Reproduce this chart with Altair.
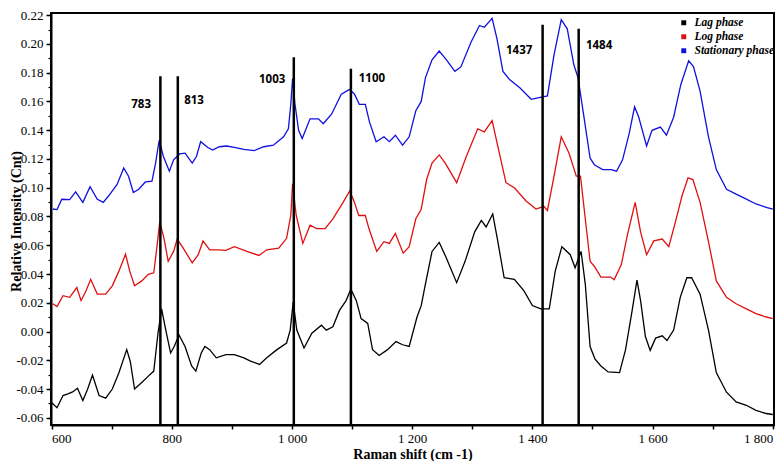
import altair as alt
import pandas as pd

# ---------------- data ----------------
phases = ["Lag phase", "Log phase", "Stationary phase"]
phase_colors = ["#000000", "#e01010", "#1010e0"]

lag_x = [599, 609, 619, 627, 635, 643, 652, 660, 668, 679, 690, 701, 712, 725, 731, 738, 750, 761, 770, 777,
         783, 790, 798, 804, 812, 822, 833, 840, 849, 855, 863, 874, 890, 904, 920, 931, 946, 958, 975, 991,
         997, 1002, 1008, 1020, 1033, 1049, 1057, 1068, 1079, 1090, 1098, 1107, 1115, 1126, 1134, 1145, 1159,
         1173, 1184, 1195, 1208, 1215, 1222, 1233, 1245, 1257, 1274, 1288, 1304, 1315, 1323, 1334, 1342, 1353,
         1370, 1386, 1400, 1414, 1428, 1438, 1449, 1463, 1471, 1481, 1488, 1496, 1504, 1514, 1526, 1545, 1555,
         1566, 1574, 1580, 1588, 1596, 1605, 1616, 1624, 1635, 1646, 1657, 1665, 1679, 1693, 1706, 1723, 1739,
         1756, 1772, 1789, 1800]
lag_y = [-0.049, -0.053, -0.0445, -0.0434, -0.042, -0.0395, -0.048, -0.040, -0.0303, -0.0445, -0.0463, -0.040,
         -0.0286, -0.0126, -0.021, -0.040, -0.0354, -0.031, -0.0275, -0.0012, 0.0158, 0.001, -0.0149, -0.0104,
         -0.0024, -0.0104, -0.024, -0.0275, -0.0149, -0.0104, -0.0126, -0.0183, -0.016, -0.016, -0.0183, -0.0206,
         -0.0229, -0.0183, -0.0126, -0.008, 0.001, 0.0204, 0.001, -0.0115, -0.0012, 0.0044, 0.001, 0.0033, 0.0147,
         0.0215, 0.0295, 0.0215, 0.009, 0.0056, -0.0126, -0.0167, -0.0126, -0.007, -0.0092, -0.0104, 0.0101,
         0.018, 0.033, 0.0557, 0.062, 0.051, 0.034, 0.0488, 0.0693, 0.0773, 0.0727, 0.0818, 0.0637, 0.0374,
         0.0363, 0.0283, 0.0181, 0.0158, 0.0158, 0.042, 0.059, 0.0534, 0.0443, 0.0557, 0.033, -0.0104, -0.019,
         -0.024, -0.0281, -0.0286, -0.0126, 0.0147, 0.0357, 0.0215, -0.0035, -0.0131, -0.0046, -0.003, -0.0063,
         0.001, 0.0238, 0.0374, 0.0374, 0.026, 0.001, -0.0286, -0.0422, -0.049, -0.0513, -0.0548, -0.057, -0.0577]

log_x = [602, 609, 619, 630, 642, 649, 657, 665, 676, 690, 701, 712, 723, 730, 738, 750, 761, 770, 775, 780,
         787, 794, 803, 809, 819, 834, 844, 852, 863, 879, 890, 904, 925, 945, 958, 978, 991, 998, 1001, 1007,
         1018, 1030, 1041, 1055, 1068, 1085, 1096, 1104, 1111, 1122, 1128, 1141, 1153, 1162, 1172, 1185, 1195,
         1206, 1215, 1224, 1233, 1245, 1255, 1274, 1290, 1309, 1320, 1333, 1345, 1356, 1370, 1389, 1406, 1419,
         1425, 1436, 1448, 1461, 1473, 1480, 1488, 1496, 1503, 1514, 1530, 1536, 1548, 1558, 1571, 1580, 1590,
         1602, 1616, 1627, 1638, 1649, 1659, 1667, 1679, 1693, 1706, 1723, 1739, 1756, 1772, 1789, 1800]
log_y = [0.0193, 0.0174, 0.0249, 0.0238, 0.0306, 0.0215, 0.028, 0.0363, 0.026, 0.026, 0.0318, 0.042, 0.0538,
         0.042, 0.0318, 0.0352, 0.0398, 0.0408, 0.058, 0.0762, 0.0648, 0.0488, 0.0557, 0.0643, 0.058, 0.0477,
         0.0534, 0.063, 0.0568, 0.0568, 0.0565, 0.059, 0.0557, 0.0529, 0.0568, 0.058, 0.0648, 0.0807, 0.1028,
         0.0807, 0.0613, 0.0739, 0.0716, 0.0716, 0.0784, 0.0898, 0.0978, 0.0898, 0.0807, 0.0807, 0.0716, 0.0557,
         0.0625, 0.0613, 0.0682, 0.0545, 0.059, 0.0784, 0.085, 0.1057, 0.1171, 0.1228, 0.1171, 0.1035, 0.1217,
         0.141, 0.1388, 0.1467, 0.124, 0.1035, 0.1, 0.091, 0.0852, 0.0871, 0.0842, 0.108, 0.1354, 0.124, 0.108,
         0.108, 0.0784, 0.0488, 0.0454, 0.0379, 0.0379, 0.036, 0.0466, 0.067, 0.0898, 0.0693, 0.0534, 0.063,
         0.0643, 0.059, 0.0762, 0.0944, 0.1069, 0.1057, 0.0898, 0.0625, 0.0352, 0.0238, 0.0193, 0.0158, 0.0124,
         0.0101, 0.009]

stat_x = [602, 609, 617, 630, 640, 652, 664, 676, 686, 695, 709, 720, 728, 736, 745, 756, 767, 773, 779, 786,
          796, 803, 813, 822, 834, 841, 848, 860, 868, 879, 891, 904, 920, 937, 953, 969, 986, 994, 998, 1001,
          1005, 1011, 1017, 1030, 1044, 1052, 1066, 1082, 1096, 1104, 1112, 1122, 1129, 1140, 1153, 1162, 1172,
          1184, 1195, 1206, 1215, 1222, 1233, 1245, 1257, 1271, 1281, 1298, 1312, 1320, 1333, 1341, 1351, 1362,
          1379, 1398, 1411, 1425, 1436, 1448, 1458, 1469, 1476, 1485, 1496, 1503, 1517, 1531, 1540, 1550, 1561,
          1570, 1577, 1590, 1599, 1613, 1623, 1635, 1647, 1660, 1668, 1679, 1693, 1706, 1723, 1739, 1756, 1772,
          1789, 1800]
stat_y = [0.0852, 0.0848, 0.092, 0.0917, 0.0971, 0.0898, 0.1007, 0.092, 0.0898, 0.0944, 0.1023, 0.1137, 0.108,
          0.0967, 0.0989, 0.104, 0.1046, 0.1171, 0.133, 0.1217, 0.1115, 0.1194, 0.1235, 0.124, 0.1171, 0.1217,
          0.132, 0.128, 0.1262, 0.1285, 0.129, 0.128, 0.1267, 0.1258, 0.1285, 0.1296, 0.1354, 0.141, 0.158,
          0.1759, 0.158, 0.1399, 0.1342, 0.1479, 0.1479, 0.1445, 0.1513, 0.165, 0.1684, 0.165, 0.158, 0.158,
          0.1456, 0.132, 0.1354, 0.132, 0.1365, 0.1296, 0.1354, 0.1535, 0.16, 0.1764, 0.1889, 0.195, 0.1889,
          0.1809, 0.184, 0.2014, 0.2128, 0.2116, 0.2178, 0.2037, 0.1809, 0.1752, 0.1695, 0.1615, 0.1627, 0.1638,
          0.1923, 0.2169, 0.2105, 0.1855, 0.1764, 0.1513, 0.1206, 0.116, 0.1126, 0.1126, 0.1115, 0.1194, 0.1376,
          0.1563, 0.149, 0.129, 0.1399, 0.1422, 0.1365, 0.149, 0.1718, 0.1882, 0.1843, 0.1672, 0.1354, 0.1126,
          0.0989, 0.0955, 0.0921, 0.0887, 0.0864, 0.0852]

# marker lines (position as drawn, top end) and their labels
marker_x = [781, 810, 1003, 1098, 1417, 1477]
marker_top = [0.1775, 0.1775, 0.1907, 0.1827, 0.2133, 0.2105]
label_text = ["783", "813", "1003", "1100", "1437", "1484"]
label_x = [749, 837, 967, 1133, 1378, 1511]
label_y = [0.1574, 0.1604, 0.1752, 0.1759, 0.195, 0.1984]

x_major = list(range(600, 1801, 100))
y_major = [round(-0.06 + 0.02 * i, 2) for i in range(15)]
y_minor = [round(-0.06 + 0.01 * i, 2) for i in range(29)]

# ---------------- tables ----------------
rows = []
for name, xs, ys in zip(phases, [lag_x, log_x, stat_x], [lag_y, log_y, stat_y]):
    for xv, yv in zip(xs, ys):
        rows.append({"phase": name, "shift": xv, "intensity": yv})
spectra = pd.DataFrame(rows)
markers = pd.DataFrame({"pos": marker_x, "top": marker_top, "bottom": [-0.065] * len(marker_x)})
labels = pd.DataFrame({"text": label_text, "x": label_x, "y": label_y})

xscale = alt.Scale(domain=[599, 1802], nice=False, zero=False)
yscale = alt.Scale(domain=[-0.065, 0.2215], nice=False, zero=False)

serif = "Liberation Serif"

x_axis = alt.Axis(
    values=x_major,
    labelExpr="datum.value % 200 == 0 ? replace(format(datum.value, ','), ',', ' ') : ''",
    title="Raman shift (cm -1)", grid=False, tickSize=4, tickWidth=1.5, labelPadding=3,
    labelFont=serif, labelFontSize=13, labelColor="black", labelOverlap=False, labelFlush=4,
    titleFont=serif, titleFontSize=14, titleFontWeight="bold", titleColor="black",
    titleY=29, titleBaseline="middle",
    domainColor="black", domainWidth=2, tickColor="black",
)
y_axis = alt.Axis(
    values=y_major, orient="left",
    labelExpr="replace(format(datum.value, '.2f'), '\u2212', '-')",
    title="Relative Intensity (Cnt)", grid=False, tickSize=5, tickWidth=1.5, labelPadding=3,
    labelFont=serif, labelFontSize=13, labelColor="black", labelOverlap=False, labelFlush=False,
    titleFont=serif, titleFontSize=14, titleFontWeight="bold", titleColor="black",
    titleX=-35, titleY=208, titleAngle=-90, titleAlign="center", titleBaseline="middle",
    domainColor="black", domainWidth=2, tickColor="black",
)
y_axis_minor = alt.Axis(
    values=y_minor, orient="left", labels=False, title=None, grid=False,
    tickSize=3, tickWidth=1.2, tickColor="black", domain=False,
)

lines = alt.Chart(spectra).mark_line(strokeWidth=1.3).encode(
    x=alt.X("shift:Q", scale=xscale, axis=x_axis),
    y=alt.Y("intensity:Q", scale=yscale, axis=y_axis),
    color=alt.Color(
        "phase:N",
        scale=alt.Scale(domain=phases, range=phase_colors),
        legend=alt.Legend(
            orient="none", legendX=627, legendY=4, title=None, symbolType="square", symbolSize=3,
            symbolStrokeWidth=3.2, labelFont=serif, labelFontSize=11.5, labelFontStyle="italic",
            labelFontWeight="bold", labelColor="black", labelOffset=5, rowPadding=-4,
        ),
    ),
    detail="phase:N",
)

rules = alt.Chart(markers).mark_rule(color="black", strokeWidth=2.5).encode(
    x=alt.X("pos:Q", scale=xscale, axis=x_axis),
    y=alt.Y("top:Q", scale=yscale, axis=y_axis_minor),
    y2="bottom:Q",
)

texts = alt.Chart(labels).mark_text(
    font="Open Sans", fontWeight="bold", fontSize=11.5, color="black", align="center", baseline="middle"
).encode(
    x=alt.X("x:Q", scale=xscale, axis=x_axis),
    y=alt.Y("y:Q", scale=yscale, axis=None),
    text="text:N",
)

chart = (
    alt.layer(lines, rules, texts)
    .resolve_axis(y="independent")
    .properties(
        width=723, height=412,
        padding={"left": 43, "top": 5, "right": 2, "bottom": 36},
        autosize=alt.AutoSizeParams(type="none"),
        background="white",
    )
    .configure_view(stroke="black", strokeWidth=2)
)

chart.save("out.html", embed_options={"renderer": "svg", "actions": False})
